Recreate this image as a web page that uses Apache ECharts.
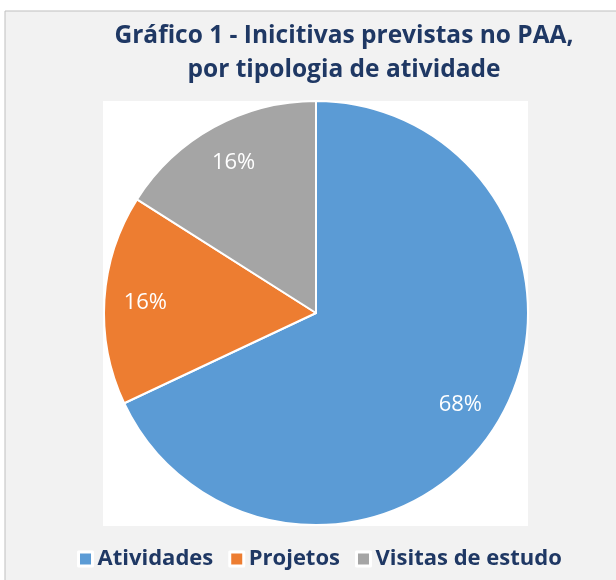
<!DOCTYPE html>
<html>
<head>
<meta charset="utf-8">
<script src="https://cdn.jsdelivr.net/npm/echarts@6/dist/echarts.min.js"></script>
<style>
	html,body{margin:0;padding:0;background:#fff;}
	#chart{width:616px;height:580px;}
</style>
</head>
<body>
<div id="chart"></div>
<script>
// tipologias e contagens (68% / 16% / 16%)
var categorias = ['Atividades','Projetos','Visitas de estudo'];
var valores = [17, 4, 4];
var cores = ['#5B9BD5','#ED7D31','#A5A5A5'];

var TITULO = 'Gráfico 1 - Inicitivas previstas no PAA,\npor tipologia de atividade';
var COR_TEXTO = '#1F3864';
var FONTE = 'Open Sans';

function renderGrafico(){
	var myChart = echarts.init(document.getElementById('chart'));
	var dados = [];
	for (var i = 0; i < categorias.length; i++){
		dados.push({value: valores[i], name: categorias[i], itemStyle: {color: cores[i]}});
	}
	myChart.setOption({
		backgroundColor: '#fff',
		animation: false,
		graphic: [
			{type:'rect', z:-10, shape:{x:5, y:11, width:640, height:600},
				style:{fill:'#F2F2F2', stroke:'#BFBFBF', lineWidth:1}},
			{type:'rect', z:-9, shape:{x:103, y:101, width:425, height:425},
				style:{fill:'#FFFFFF'}}
		],
		title: {
			text: TITULO,
			left: 339,
			textAlign: 'center',
			top: 14,
			textStyle: {
				color: COR_TEXTO,
				fontFamily: FONTE,
				fontWeight: 'bold',
				fontSize: 24.5,
				lineHeight: 34
			}
		},
		legend: {
			bottom: 5,
			left: 72,
			icon: 'rect',
			itemWidth: 14,
			itemHeight: 14,
			itemGap: 15,
			selectedMode: false,
			data: categorias,
			itemStyle: {borderColor: '#fff', borderWidth: 3},
			textStyle: {
				color: COR_TEXTO,
				fontFamily: FONTE,
				fontWeight: 'bold',
				fontSize: 22
			}
		},
		series: [
			{
				name: 'tipologia',
				type: 'pie',
				center: [316, 313],
				radius: [0, 212],
				startAngle: 90,
				clockwise: true,
				itemStyle: {borderColor: '#fff', borderWidth: 2},
				label: {show: false},
				labelLine: {show: false},
				emphasis: {disabled: true},
				data: dados
			},
			{
				// série transparente só para colocar os rótulos a ~0.79 do raio
				name: 'rotulos',
				type: 'pie',
				center: [316, 313],
				radius: [0, 336],
				startAngle: 90,
				clockwise: true,
				silent: true,
				legendHoverLink: false,
				itemStyle: {color: 'transparent', borderWidth: 0},
				label: {
					show: true,
					position: 'inside',
					formatter: '{d}%',
					color: '#fff',
					fontFamily: FONTE,
					fontSize: 22
				},
				labelLine: {show: false},
				emphasis: {disabled: true},
				data: valores.map(function(v, i){ return {value: v, name: categorias[i] + ' '}; })
			}
		]
	});
}

renderGrafico();
</script>
</body>
</html>
